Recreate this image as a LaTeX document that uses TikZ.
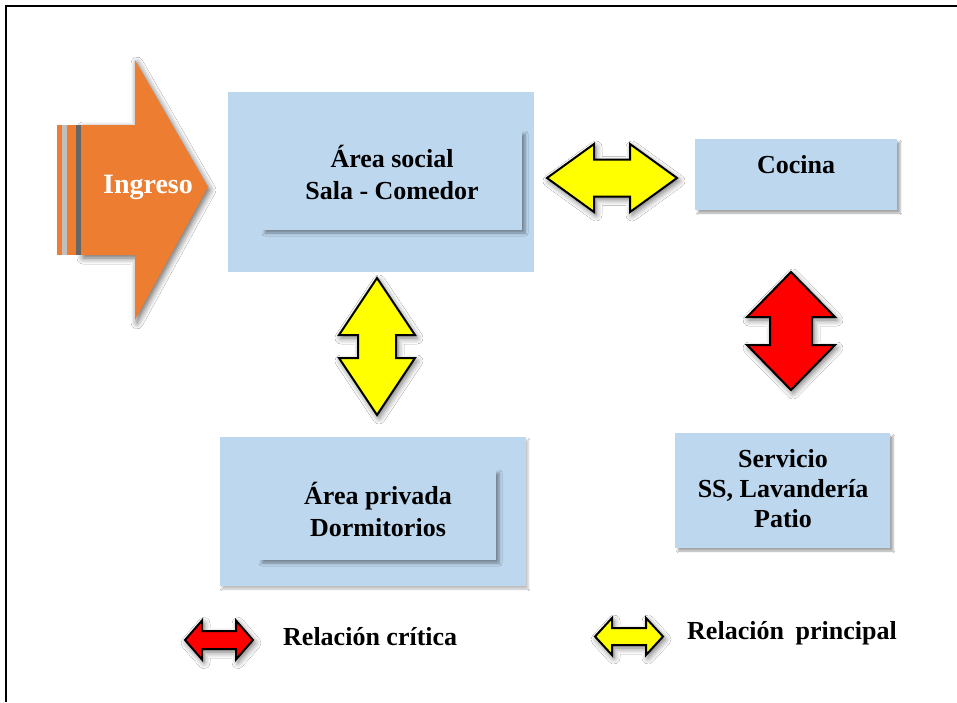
\documentclass[tikz,border=0pt]{standalone}
\usepackage{fontspec}
\setmainfont{Liberation Serif}
\usetikzlibrary{shadows.blur}
\definecolor{boxblue}{HTML}{BDD7EE}
\definecolor{ingorange}{HTML}{ED7D31}
\definecolor{arrred}{HTML}{FF0000}
\definecolor{arryellow}{HTML}{FFFF00}
\tikzset{
  bigbox/.style={rectangle, fill=boxblue, inner sep=0pt},
  innerbox/.style={rectangle, fill=boxblue, inner sep=0pt, align=center,
    blur shadow={shadow xshift=3pt, shadow yshift=-3pt, shadow opacity=40, shadow blur steps=5, shadow blur radius=3pt},
    font=\bfseries\fontsize{26}{32}\selectfont},
  label/.style={font=\bfseries\fontsize{26}{32}\selectfont, inner sep=0pt, align=center},
  dblarr/.style={draw=black, line width=2pt, line join=miter,
    blur shadow={shadow xshift=2pt, shadow yshift=-3pt, shadow opacity=55, shadow blur steps=6, shadow blur radius=6pt}},
}
% horizontal double arrow: cx, cy, half length, head half-height, shaft half-height, head length
\newcommand{\myharrow}[7]{%
  \path[dblarr, fill=#7] ({#1-#3},{#2}) -- ({#1-#3+#6},{#2-#4}) -- ({#1-#3+#6},{#2-#5})
    -- ({#1+#3-#6},{#2-#5}) -- ({#1+#3-#6},{#2-#4}) -- ({#1+#3},{#2})
    -- ({#1+#3-#6},{#2+#4}) -- ({#1+#3-#6},{#2+#5}) -- ({#1-#3+#6},{#2+#5})
    -- ({#1-#3+#6},{#2+#4}) -- cycle;}
% vertical double arrow
\newcommand{\myvarrow}[7]{%
  \path[dblarr, fill=#7] ({#1},{#2-#3}) -- ({#1+#4},{#2-#3+#6}) -- ({#1+#5},{#2-#3+#6})
    -- ({#1+#5},{#2+#3-#6}) -- ({#1+#4},{#2+#3-#6}) -- ({#1},{#2+#3})
    -- ({#1-#4},{#2+#3-#6}) -- ({#1-#5},{#2+#3-#6}) -- ({#1-#5},{#2-#3+#6})
    -- ({#1-#4},{#2-#3+#6}) -- cycle;}
\begin{document}
\begin{tikzpicture}[x=1pt, y=-1pt]
\useasboundingbox[fill=white] (0,0) rectangle (957,702);
% frame
\draw[line width=2pt] (6,702) -- (6,6) -- (957,6);

% Ingreso arrow
\fill[ingorange, blur shadow={shadow xshift=2pt, shadow yshift=-3pt, shadow opacity=60, shadow blur steps=6, shadow blur radius=6pt}]
  (81,125) -- (135,125) -- (135,60) -- (208,187) -- (135,320) -- (135,255) -- (81,255) -- cycle;
\fill[black!60] (76,125) rectangle (81,255);
\fill[black!25] (62,125) rectangle (67,255);
\fill[ingorange] (57,125) rectangle (62,255);
\fill[ingorange] (67,125) rectangle (76,255);
\node[font=\bfseries\fontsize{28}{32}\selectfont, text=white, inner sep=0pt] (ing) at (148,187) {Ingreso};

% Area social
\node[bigbox, minimum width=306, minimum height=180] (soc) at (381,182) {};
\node[innerbox, minimum width=260, minimum height=99] (socin) at (392,180.5) {};
\node[label] (soct) at (392,172) {Área social\\Sala - Comedor};

% Cocina
\node[bigbox, minimum width=202, minimum height=71,
  blur shadow={shadow xshift=3pt, shadow yshift=-3pt, shadow opacity=35, shadow blur steps=4}] (coc) at (796,174.5) {};
\node[label] (coct) at (796,165) {Cocina};

% Area privada
\node[bigbox, minimum width=306, minimum height=149,
  blur shadow={shadow xshift=2pt, shadow yshift=-3pt, shadow opacity=25, shadow blur steps=4}] (pri) at (373,511.5) {};
\node[innerbox, minimum width=237, minimum height=90] (priin) at (377.5,515) {};
\node[label] (prit) at (378,509) {Área privada\\Dormitorios};

% Servicio
\node[bigbox, minimum width=215, minimum height=115,
  blur shadow={shadow xshift=3pt, shadow yshift=-3pt, shadow opacity=35, shadow blur steps=4}] (ser) at (782.5,490.5) {};
\node[label, font=\bfseries\fontsize{26}{30}\selectfont] (sert) at (783,489) {Servicio\\SS, Lavandería\\Patio};

% relation arrows
\myharrow{612}{178}{65}{34}{18.5}{47}{arryellow}
\myvarrow{377}{346.5}{68.5}{38}{19}{57}{arryellow}
\myvarrow{791}{331}{59}{44}{21}{45}{arrred}

% legend
\myharrow{219}{640}{34}{19.5}{9}{17}{arrred}
\node[label, anchor=west] (legc) at (283,637) {Relación crítica};
\myharrow{629}{636.5}{34}{18.5}{8.5}{17}{arryellow}
\node[label, anchor=west] (legp) at (687,633) {Relación\hspace{0.45em}principal};
\end{tikzpicture}
\end{document}
